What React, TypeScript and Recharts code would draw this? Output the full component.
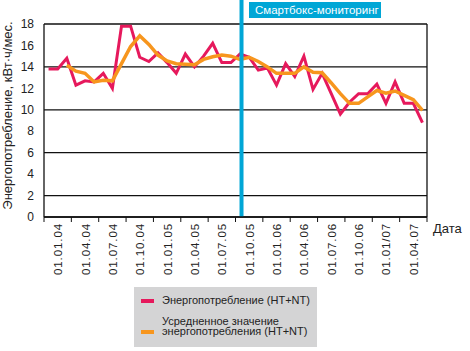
import React from "react";
import {
  LineChart,
  Line,
  XAxis,
  YAxis,
  CartesianGrid,
  ReferenceLine,
  Legend,
} from "recharts";

// monthly values, Jan 2004 .. Jun 2007
const consumption = [
  13.8, 13.8, 14.8, 12.3, 12.7, 12.6, 13.4, 12.0, 17.8, 17.8, 14.9, 14.5,
  15.3, 14.4, 13.4, 15.2, 14.0, 15.0, 16.2, 14.4, 14.4, 15.2, 14.9, 13.7,
  13.9, 12.3, 14.3, 13.1, 15.0, 11.9, 13.4, 11.5, 9.6, 10.7, 11.5, 11.5,
  12.4, 10.6, 12.6, 10.6, 10.6, 8.8,
];

const averaged = [
  null, null, 14.15, 13.6, 13.4, 12.6, 12.75, 12.7, 14.3, 15.9, 16.9, 16.1,
  15.1, 14.55, 14.3, 14.25, 14.2, 14.7, 14.95, 15.1, 15.0, 14.7, 14.9, 14.5,
  14.0, 13.4, 13.4, 13.4, 14.0, 13.5, 13.45, 12.5, 11.5, 10.6, 10.6, 11.2,
  11.8, 11.55, 11.75, 11.35, 10.95, 9.95,
];

const quarterLabels = [
  "01.01.04", "01.04.04", "01.07.04", "01.10.04", "01.01.05", "01.04.05",
  "01.07.05", "01.10.05", "01.01.06", "01.04.06", "01.07.06", "01.10.06",
  "01.01/07", "01.04.07",
];

const yTicks = [0, 2, 4, 6, 8, 10, 12, 14, 16, 18];
const monitoringStart = 21.66; // month index where the smartbox monitoring begins
const legendOrder = ["consumption", "averaged"];

const RED = "#e6195c";
const ORANGE = "#f7961e";
const BLUE = "#00a6d6";
const FONT = "'Liberation Sans', Arial, sans-serif";

const W = 470;
const H = 351;
const margin = { top: 24, right: 43, bottom: 0, left: 0 };
const Y_AXIS_W = 44;
const PLOT_W = W - margin.right - Y_AXIS_W;

const data = consumption.map((v, i) => ({
  x: i + 0.5,
  consumption: v,
  averaged: averaged[i],
}));

const monthCount = consumption.length;
const xTicks = Array.from({ length: quarterLabels.length + 1 }, (_, i) => i * 3);
const quarterW = PLOT_W / quarterLabels.length;

const QuarterTick = (props: any) => {
  const { x, y, payload } = props;
  const label = quarterLabels[payload.value / 3];
  if (!label) return null;
  const bx = x + quarterW / 2 + 4.5;
  return (
    <text
      x={bx}
      y={y - 1}
      transform={`rotate(-90, ${bx}, ${y - 1})`}
      textAnchor="end"
      fontSize={11.5}
      letterSpacing={0.9}
      fill="#222"
      fontFamily={FONT}
    >
      {label}
    </text>
  );
};

const LegendBox = (props: any) => {
  const items = [...(props.payload || [])].sort(
    (a: any, b: any) => legendOrder.indexOf(a.dataKey) - legendOrder.indexOf(b.dataKey)
  );
  return (
    <div style={{ padding: "8px 0 0 7px", fontFamily: FONT, color: "#222" }}>
      {items.map((entry: any, i: number) => (
        <div
          key={i}
          style={{
            display: "flex",
            alignItems: "flex-end",
            marginBottom: 10,
          }}
        >
          <div
            style={{
              width: 13,
              height: 4,
              background: entry.color,
              marginRight: 8,
              marginBottom: 3,
              flexShrink: 0,
            }}
          />
          <div
            style={{
              fontSize: 11,
              lineHeight: "10.5px",
              whiteSpace: "pre-line",
            }}
          >
            {entry.value}
          </div>
        </div>
      ))}
    </div>
  );
};

export default function App() {
  return (
    <div style={{ position: "absolute", left: 0, top: 0, width: W, height: H, background: "#fff" }}>
      <LineChart width={W} height={H} data={data} margin={margin}>
        <CartesianGrid vertical={false} stroke="#111" strokeWidth={1.3} />
        <XAxis
          dataKey="x"
          type="number"
          domain={[0, monthCount]}
          ticks={xTicks}
          interval={0}
          height={H - 217}
          tickSize={5}
          tickLine={{ stroke: "#111" }}
          axisLine={{ stroke: "#111", strokeWidth: 1.3 }}
          tick={QuarterTick}
          label={{
            content: ({ viewBox }: any) => (
              <text
                x={viewBox.x + viewBox.width + 6}
                y={viewBox.y + 16}
                fontSize={13}
                fill="#222"
                fontFamily={FONT}
              >
                Дата
              </text>
            ),
          }}
        />
        <YAxis
          type="number"
          domain={[0, 18]}
          ticks={yTicks}
          width={Y_AXIS_W}
          tickSize={0}
          tickMargin={10}
          axisLine={{ stroke: "#111", strokeWidth: 1.3 }}
          tick={{ fontSize: 12, fill: "#222", fontFamily: FONT }}
          label={{
            content: ({ viewBox }: any) => {
              const cx = 12.3;
              const cy = viewBox.y + viewBox.height / 2 - 5;
              return (
                <text
                  x={cx}
                  y={cy}
                  transform={`rotate(-90, ${cx}, ${cy})`}
                  textAnchor="middle"
                  fontSize={13}
                  fill="#222"
                  fontFamily={FONT}
                >
                  Энергопотребление, кВт·ч/мес.
                </text>
              );
            },
          }}
        />
        <ReferenceLine x={monthCount} stroke="#111" strokeWidth={1.3} />
        <Line
          type="linear"
          dataKey="consumption"
          name="Энергопотребление (HT+NT)"
          stroke={RED}
          strokeWidth={3}
          dot={false}
          isAnimationActive={false}
        />
        <Line
          type="linear"
          dataKey="averaged"
          name={"Усредненное значение\nэнергопотребления (HT+NT)"}
          stroke={ORANGE}
          strokeWidth={3.5}
          dot={false}
          isAnimationActive={false}
        />
        <ReferenceLine
          segment={[
            { x: monitoringStart, y: 0 },
            { x: monitoringStart, y: 22.5 },
          ]}
          ifOverflow="visible"
          stroke={BLUE}
          strokeWidth={4}
        />
        <Legend
          layout="vertical"
          align="center"
          verticalAlign="middle"
          content={LegendBox}
          wrapperStyle={{
            left: 134,
            top: 287,
            width: 183,
            height: 60,
            background: "#d4d4d5",
          }}
        />
      </LineChart>
      <div
        style={{
          position: "absolute",
          left: 249,
          top: 2,
          width: 132,
          height: 16,
          background: BLUE,
          color: "#fff",
          fontFamily: FONT,
          fontSize: 11.5,
          lineHeight: "16px",
          paddingLeft: 6,
          boxSizing: "border-box",
        }}
      >
        Смартбокс-мониторинг
      </div>
    </div>
  );
}
